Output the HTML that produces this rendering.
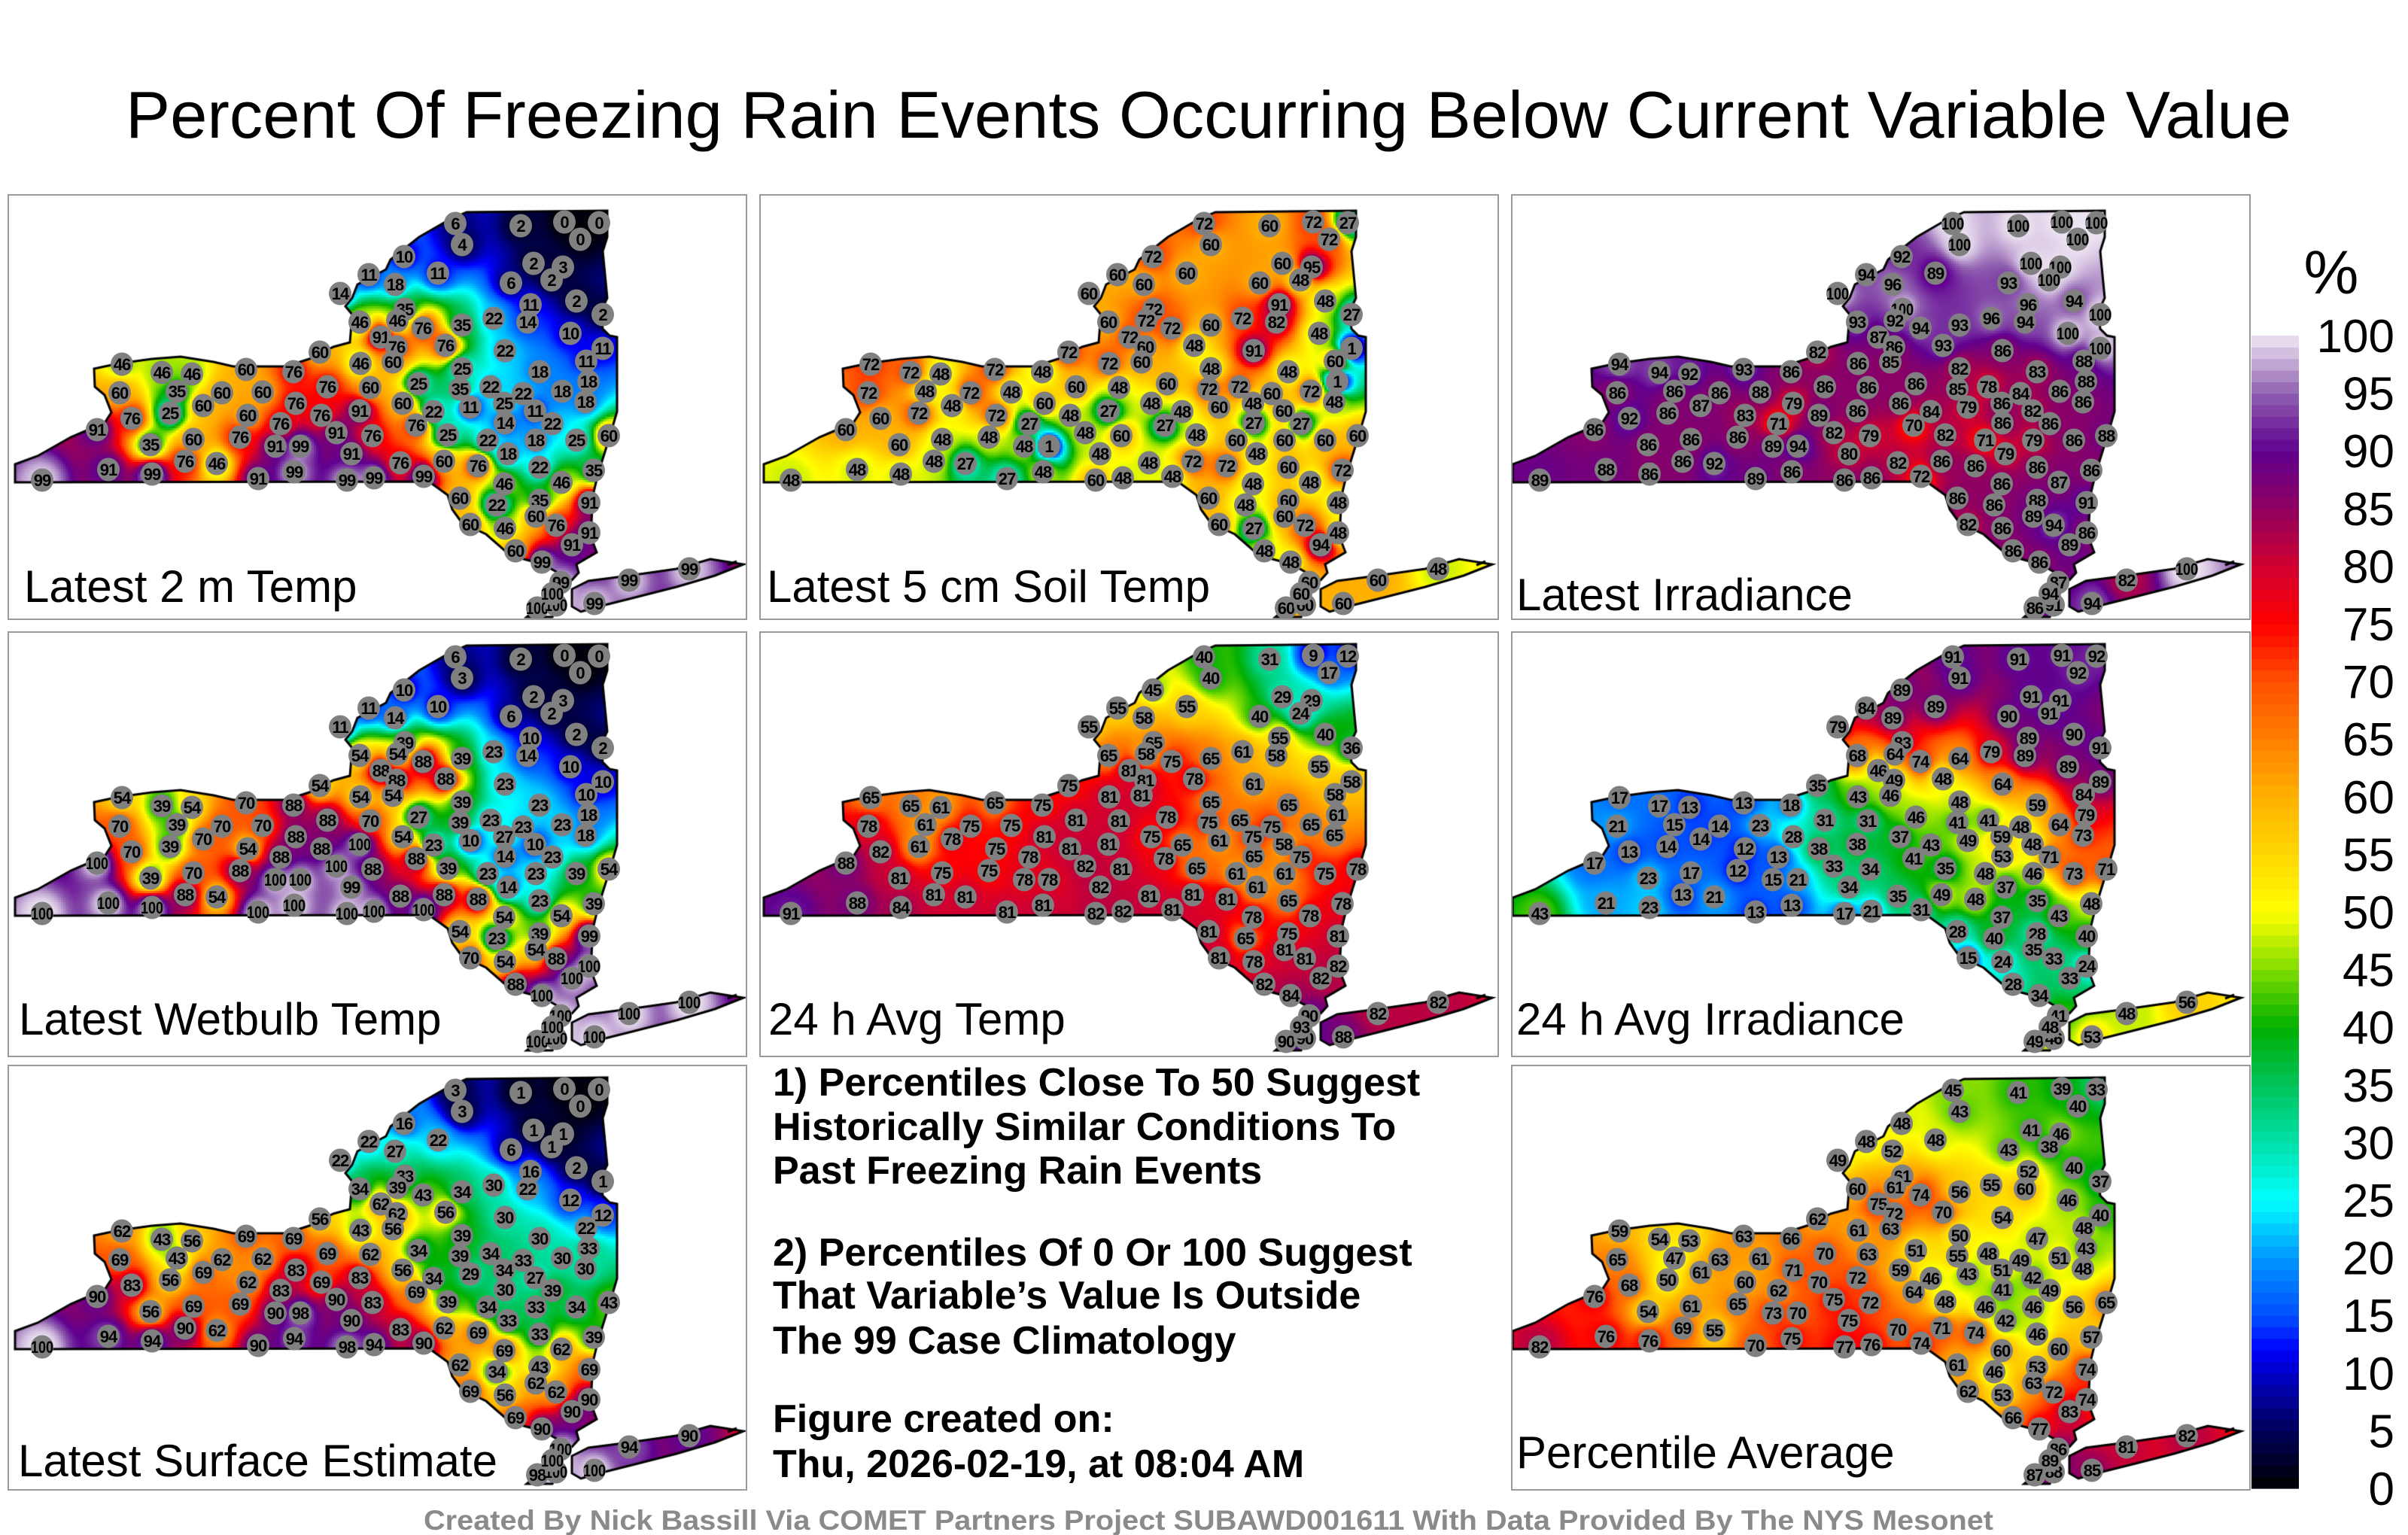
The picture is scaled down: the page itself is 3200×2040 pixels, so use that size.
<!DOCTYPE html>
<html><head><meta charset="utf-8">
<style>
html,body{margin:0;padding:0;background:#fff;}
#root{position:relative;width:3200px;height:2040px;overflow:hidden;background:#fff;font-family:"Liberation Sans",sans-serif;}
.panel{position:absolute;width:983px;height:566px;box-sizing:border-box;border:2px solid #9a9a9a;background:#fff;overflow:hidden;}
.panel canvas,.panel svg{position:absolute;left:0;top:0;}
</style></head>
<body>
<div id="root">
<svg id="static" width="3200" height="2040" style="position:absolute;left:0;top:0">
  <text x="1606" y="183" text-anchor="middle" font-size="88" textLength="2878" lengthAdjust="spacingAndGlyphs" font-family="Liberation Sans, sans-serif">Percent Of Freezing Rain Events Occurring Below Current Variable Value</text>
  <g font-family="Liberation Sans, sans-serif" font-weight="bold" font-size="52">
    <text x="1027" y="1456">1) Percentiles Close To 50 Suggest</text>
    <text x="1027" y="1515">Historically Similar Conditions To</text>
    <text x="1027" y="1573">Past Freezing Rain Events</text>
    <text x="1027" y="1682">2) Percentiles Of 0 Or 100 Suggest</text>
    <text x="1027" y="1739">That Variable’s Value Is Outside</text>
    <text x="1027" y="1799">The 99 Case Climatology</text>
    <text x="1027" y="1903">Figure created on:</text>
    <text x="1027" y="1963">Thu, 2026-02-19, at 08:04 AM</text>
  </g>
  <text x="1606" y="2033" text-anchor="middle" font-family="Liberation Sans, sans-serif" font-weight="bold" font-size="37" fill="#8a8a8a" textLength="2086" lengthAdjust="spacingAndGlyphs">Created By Nick Bassill Via COMET Partners Project SUBAWD001611 With Data Provided By The NYS Mesonet</text>
  <text x="3098" y="390" text-anchor="middle" font-size="82" font-family="Liberation Sans, sans-serif">%</text>
  <g id="cbar"></g>
  <g id="cticks" font-family="Liberation Sans, sans-serif" font-size="62"></g>
</svg>
</div>
<script>
// ---- station locations (panel-local map coordinates) ----
const STX=[593,680,738,784,759,602,525,697,736,721,478,570,513,440,667,754,789,693,644,689,746,526,466,516,550,602,494,515,580,659,789,767,413,467,510,602,705,770,150,203,243,315,378,423,480,544,599,640,683,735,766,147,223,283,337,258,381,523,564,613,658,699,163,214,317,415,466,361,659,722,117,541,435,483,188,245,307,354,387,583,636,700,754,797,663,455,234,276,132,190,379,520,578,623,705,777,44,331,449,485,551,658,734,599,648,705,771,700,613,659,727,771,748,673,708,733,824,904,778,702,727,722];
const STY=[37,40,35,36,58,65,81,90,95,112,105,103,118,130,116,140,158,145,163,168,183,151,168,166,176,172,188,201,199,206,203,220,208,223,221,230,234,247,224,235,237,231,234,254,255,250,257,254,263,260,274,262,260,262,261,279,276,276,287,281,276,286,296,289,292,292,286,303,302,303,311,305,315,319,331,324,321,333,333,318,325,325,325,319,343,343,353,356,364,370,367,355,353,359,361,365,378,376,378,375,373,383,381,402,411,405,408,426,437,442,438,448,464,472,487,514,511,496,542,548,544,529];
// ---- per-panel percentile values ----
const V_TEMP2M=[6,2,0,0,0,4,10,2,3,2,11,11,18,14,6,2,2,11,22,14,10,35,46,46,76,35,91,76,76,22,11,11,60,46,60,25,18,18,46,46,46,60,76,76,60,25,35,22,22,18,18,60,35,60,60,60,76,60,22,11,25,11,76,25,60,76,91,76,14,22,91,76,91,76,35,60,76,91,99,25,22,18,25,60,18,91,76,46,91,99,99,76,60,76,22,35,99,91,99,99,99,46,46,60,22,35,91,60,60,46,76,91,91,60,99,99,99,99,99,100,100,100];
const V_SOIL=[72,60,72,27,72,60,72,60,95,48,60,60,60,60,60,48,27,91,72,82,48,72,60,72,72,60,72,60,48,91,1,60,72,72,60,48,48,1,72,72,48,72,48,60,48,60,72,72,60,72,48,72,48,72,48,48,60,48,48,60,48,60,60,72,72,48,27,27,27,27,60,27,48,60,60,48,48,48,1,48,60,60,60,60,48,48,48,27,48,48,48,48,72,72,60,72,48,27,60,48,48,48,48,60,48,60,48,60,60,27,72,48,94,48,48,60,60,48,60,60,60,60];
const V_IRR=[100,100,100,100,100,100,92,100,100,100,94,89,96,100,93,94,100,96,96,94,100,100,93,92,94,93,87,86,93,86,100,88,82,86,85,82,83,88,94,94,92,93,86,86,86,86,85,78,84,86,86,86,86,86,88,87,79,86,84,79,86,82,92,86,83,89,86,71,86,86,86,70,82,79,86,86,86,89,94,82,71,79,86,88,79,80,86,92,88,86,86,82,86,86,86,86,89,89,86,86,72,86,87,86,86,88,91,89,82,86,94,86,89,86,86,87,82,100,94,86,91,94];
const V_WETBULB=[6,2,0,0,0,3,10,2,3,2,11,10,14,11,6,2,2,10,23,14,10,39,54,54,88,39,88,88,88,23,10,10,54,54,54,39,23,18,54,39,54,70,88,88,70,27,39,23,23,23,18,70,39,70,70,70,88,54,23,10,27,10,70,39,54,88,100,88,14,23,100,88,100,88,39,70,88,100,100,39,23,23,39,54,14,99,88,54,100,100,100,88,88,88,23,39,100,100,100,100,100,54,54,54,23,39,99,54,70,54,88,100,100,88,100,100,100,100,100,100,100,100];
const V_AVGT=[40,31,9,12,17,40,45,29,29,24,55,55,58,55,40,40,36,55,61,58,55,65,65,58,75,65,81,81,78,61,58,58,75,81,81,65,65,61,65,65,61,65,75,81,81,78,75,65,75,65,65,78,61,75,75,78,81,75,65,61,75,58,82,61,75,81,81,78,65,75,88,78,82,81,81,75,75,78,78,65,61,61,75,78,61,82,81,81,88,84,81,81,81,81,65,78,91,81,82,82,81,78,78,81,65,75,81,81,81,78,81,82,82,82,84,90,82,82,88,90,90,93];
const V_AVGIRR=[91,91,91,92,92,91,89,91,91,91,84,89,89,79,90,90,91,89,79,89,89,83,68,64,74,64,46,49,48,64,89,84,35,43,46,48,59,79,17,17,13,13,18,31,31,46,41,41,48,64,73,21,15,14,23,14,28,37,43,49,59,48,13,14,12,38,38,13,53,71,17,41,33,34,23,17,12,15,21,35,48,46,73,71,37,34,13,21,21,23,13,35,49,48,35,48,43,13,17,21,31,37,43,28,40,28,40,35,15,24,33,24,33,28,34,41,48,56,53,49,46,48];
const V_SURFACE=[3,1,0,0,0,3,16,1,1,1,22,22,27,22,6,2,1,16,30,22,12,33,34,39,43,34,62,62,56,30,12,22,56,43,56,39,30,33,62,43,56,69,69,69,62,34,39,34,33,30,30,69,43,62,62,69,83,56,34,29,34,27,83,56,62,69,83,83,30,39,90,69,90,83,56,69,69,90,98,39,34,33,34,43,33,90,90,62,94,94,94,83,62,69,33,39,100,90,98,94,90,69,62,62,34,43,69,62,69,56,62,90,90,69,90,100,94,90,100,98,100,100];
const V_AVERAGE=[45,41,39,33,40,43,48,41,46,38,48,48,52,49,43,40,37,52,55,60,46,61,60,61,74,56,75,72,70,54,40,48,62,61,63,50,47,43,59,54,53,63,66,70,63,51,55,48,49,51,48,65,47,63,61,61,71,59,46,43,51,42,68,50,60,70,72,62,41,49,76,64,75,72,54,61,65,73,70,48,46,46,56,65,42,75,69,55,76,76,75,70,71,74,46,57,82,70,77,76,74,60,60,61,46,53,74,63,62,53,72,74,83,66,77,86,81,82,85,87,88,89];
const TICKS=[0,5,10,15,20,25,30,35,40,45,50,55,60,65,70,75,80,85,90,95,100];

const STOPS=[[0,[0,0,0]],[5,[0,0,90]],[10,[0,0,200]],[12,[0,0,255]],[15,[0,80,255]],[20,[0,150,255]],[25,[0,255,255]],[30,[0,225,170]],[35,[0,195,90]],[40,[0,175,0]],[45,[128,220,0]],[50,[255,255,0]],[55,[255,215,0]],[60,[255,176,0]],[65,[255,128,0]],[70,[255,80,0]],[75,[255,0,0]],[80,[208,0,48]],[85,[144,0,96]],[90,[96,0,144]],[95,[144,96,176]],[100,[240,232,244]]];
function cmap(v){
  v=Math.max(0,Math.min(100,v));
  for(let i=1;i<STOPS.length;i++){
    if(v<=STOPS[i][0]){const a=STOPS[i-1],b=STOPS[i];const t=(v-a[0])/(b[0]-a[0]);
      return [0,1,2].map(k=>Math.round(a[1][k]+(b[1][k]-a[1][k])*t));}
  }
  return STOPS[STOPS.length-1][1];
}
const NS='http://www.w3.org/2000/svg';
// ---- colorbar ----
const CB_TOP=446,CB_BOT=1978,CB_X=2992,CB_W=63;
function cbY(v){return CB_BOT-(v/100)*(CB_BOT-CB_TOP);}
const cb=document.getElementById('cbar');
for(let v=0;v<100;v+=1){
  const c=cmap(v+0.5);
  const r=document.createElementNS(NS,'rect');
  r.setAttribute('x',CB_X);r.setAttribute('y',cbY(v+1));r.setAttribute('width',CB_W);r.setAttribute('height',(CB_BOT-CB_TOP)/100+0.6);
  r.setAttribute('fill','rgb('+c.join(',')+')');
  
  
  cb.appendChild(r);
}
const ct=document.getElementById('cticks');
TICKS.forEach(t=>{
  const tx=document.createElementNS(NS,'text');
  tx.setAttribute('x',3182);tx.setAttribute('y',cbY(t)+22);tx.setAttribute('text-anchor','end');
  tx.textContent=String(t);
  
  
  ct.appendChild(tx);
});
// ---- NY outline ----
const NY=[[8,357],[38,346],[82,321],[101,313],[127,302],[136,288],[127,265],[114,254],[113,230],[146,223],[190,217],[228,214],[272,221],[298,227],[368,227],[399,217],[431,201],[453,195],[456,158],[447,147],[456,136],[463,118],[501,98],[507,85],[545,55],[583,33],[608,22],[795,20],[795,55],[789,74],[795,136],[786,155],[789,177],[798,186],[808,188],[808,287],[798,321],[783,369],[776,398],[773,453],[781,474],[754,490],[757,501],[748,511],[735,516],[729,501],[710,490],[684,483],[659,472],[634,450],[602,435],[589,417],[583,398],[558,380],[8,381]];
const LI=[[748,523],[770,512],[824,505],[887,496],[932,483],[976,490],[938,505],[887,520],[824,536],[792,544],[760,553],[748,546]];
const SI=[[688,560],[710,542],[729,546],[722,560]];
function pstr(p){return 'M'+p.map(q=>q[0]+','+q[1]).join('L')+'Z';}
const SHAPE=pstr(NY)+pstr(LI)+pstr(SI);

const PANELS=[
 {id:'latest-2m-temp',label:'Latest 2 m Temp',x:10,y:258,dx:0,dy:0,lx:20,ly:540,vals:V_TEMP2M},
 {id:'latest-5cm-soil-temp',label:'Latest 5 cm Soil Temp',x:1009,y:258,dx:-4,dy:0,lx:8,ly:540,vals:V_SOIL},
 {id:'latest-irradiance',label:'Latest Irradiance',x:2008,y:258,dx:-8,dy:0,lx:5,ly:551,vals:V_IRR},
 {id:'latest-wetbulb-temp',label:'Latest Wetbulb Temp',x:10,y:839,dx:0,dy:-5,lx:13,ly:534,vals:V_WETBULB},
 {id:'avg-temp-24h',label:'24 h Avg Temp',x:1009,y:839,dx:-4,dy:-5,lx:10,ly:534,vals:V_AVGT},
 {id:'avg-irradiance-24h',label:'24 h Avg Irradiance',x:2008,y:839,dx:-8,dy:-5,lx:5,ly:534,vals:V_AVGIRR},
 {id:'latest-surface-estimate',label:'Latest Surface Estimate',x:10,y:1415,dx:0,dy:-5,lx:12,ly:545,vals:V_SURFACE},
 {id:'percentile-average',label:'Percentile Average',x:2008,y:1415,dx:-8,dy:-5,lx:5,ly:534,vals:V_AVERAGE}
];
const root=document.getElementById('root');
PANELS.forEach(P=>{
  const d=document.createElement('div');
  d.className='panel';d.style.left=P.x+'px';d.style.top=P.y+'px';
  
  
  root.appendChild(d);
  const W=979,H=562;
  const cv=document.createElement('canvas');cv.width=W;cv.height=H;
  
  
  d.appendChild(cv);
  const ctx=cv.getContext('2d');
  ctx.translate(P.dx,P.dy);
  const path=new Path2D(SHAPE);
  ctx.save();ctx.clip(path);
  const cs=3,n=STX.length;
  for(let gy=0;gy<575;gy+=cs){for(let gx=0;gx<990;gx+=cs){
    const px=gx+cs/2,py=gy+cs/2;let sw=0,sv=0;
    for(let i=0;i<n;i++){const ddx=px-STX[i],ddy=py-STY[i];const w=1/Math.pow(ddx*ddx+ddy*ddy+30,1.5);sw+=w;sv+=w*P.vals[i];}
    const c=cmap(sv/sw);ctx.fillStyle='rgb('+c[0]+','+c[1]+','+c[2]+')';ctx.fillRect(gx,gy,cs,cs);
  }}
  ctx.restore();
  ctx.lineWidth=3;ctx.strokeStyle='#000';ctx.stroke(path);
  ctx.beginPath();ctx.moveTo(955,491);ctx.lineTo(967,486);ctx.lineWidth=3;ctx.stroke();
  const sv=document.createElementNS(NS,'svg');sv.setAttribute('width',W);sv.setAttribute('height',H);
  
  
  d.appendChild(sv);
  for(let i=0;i<n;i++){
    const g=document.createElementNS(NS,'g');
    
    
    const e=document.createElementNS(NS,'ellipse');
    e.setAttribute('cx',STX[i]+P.dx);e.setAttribute('cy',STY[i]+P.dy);e.setAttribute('rx',15);e.setAttribute('ry',15.5);e.setAttribute('fill','#808080');
    g.appendChild(e);
    const t=document.createElementNS(NS,'text');
    t.setAttribute('x',STX[i]+P.dx);t.setAttribute('y',STY[i]+P.dy+8);t.setAttribute('text-anchor','middle');
    t.setAttribute('font-family','Liberation Sans, sans-serif');t.setAttribute('font-weight','bold');t.setAttribute('font-size','22');
    const s=String(P.vals[i]);
    if(s.length>2){t.setAttribute('textLength','30');t.setAttribute('lengthAdjust','spacingAndGlyphs');}
    else{t.setAttribute('letter-spacing','-1');}
    t.textContent=s;
    
    
    g.appendChild(t);
    sv.appendChild(g);
  }
  const lb=document.createElementNS(NS,'text');
  lb.setAttribute('x',P.lx);lb.setAttribute('y',P.ly);lb.setAttribute('font-size','60');lb.setAttribute('font-family','Liberation Sans, sans-serif');
  lb.textContent=P.label;
  
  
  sv.appendChild(lb);
});
</script>
</body></html>
